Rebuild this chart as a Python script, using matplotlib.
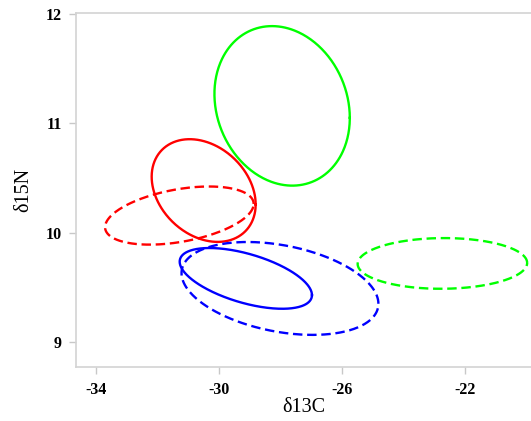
import numpy as np
import matplotlib.pyplot as plt

plt.rcParams['font.family'] = ['Liberation Serif', 'DejaVu Serif']

# ellipse parameters (data units): centre, half-width in x, half-height in y, correlation
names = ["green solid", "red solid", "red dashed", "blue solid", "blue dashed", "green dashed"]
cx = [-27.95, -30.50, -31.29, -29.13, -28.02, -22.74]
cy = [11.16, 10.385, 10.156, 9.581, 9.489, 9.718]
sx = [2.20, 1.69, 2.415, 2.15, 3.20, 2.755]
sy = [0.73, 0.47, 0.266, 0.278, 0.425, 0.232]
rho = [-0.15, -0.27, 0.40, -0.55, -0.33, 0.02]
colors = ["#00ff00", "#ff0000", "#ff0000", "#0000ff", "#0000ff", "#00ff00"]
styles = ["solid", "solid", "dashed", "solid", "dashed", "dashed"]

xticks = [-34, -30, -26, -22]
yticks = [9, 10, 11, 12]

fig = plt.figure(figsize=(5.31, 4.21), dpi=100)
ax = fig.add_axes([76 / 531, 1 - 367 / 421, 1 - 76 / 531, (367 - 13) / 421])

t = np.linspace(0, 2 * np.pi, 400)
for i in range(len(names)):
    phi = np.arccos(rho[i])
    x = cx[i] + sx[i] * np.cos(t)
    y = cy[i] + sy[i] * np.cos(t - phi)
    ls = (0, (4, 2)) if styles[i] == "dashed" else "-"
    ax.plot(x, y, color=colors[i], lw=1.7, linestyle=ls)

ax.set_xlim(-34.65, -19.86)
ax.set_ylim(8.77, 12.01)
ax.set_xticks(xticks)
ax.set_yticks(yticks)
ax.set_xticklabels([str(v) for v in xticks], fontweight='bold', fontsize=11.5)
ax.set_yticklabels([str(v) for v in yticks], fontweight='bold', fontsize=11.5)

for s in ["left", "bottom", "top"]:
    ax.spines[s].set_color("#d3d3d3")
    ax.spines[s].set_linewidth(1.2)
ax.spines["right"].set_visible(False)
ax.tick_params(direction='out', length=5, width=1, color="#c8c8c8")
ax.tick_params(axis='x', pad=6)
ax.tick_params(axis='y', pad=5)

ax.set_xlabel("δ13C", fontsize=14.5, labelpad=0)
ax.set_ylabel("δ15N", fontsize=14.5, labelpad=9)

fig.savefig("out.png", dpi=100)
